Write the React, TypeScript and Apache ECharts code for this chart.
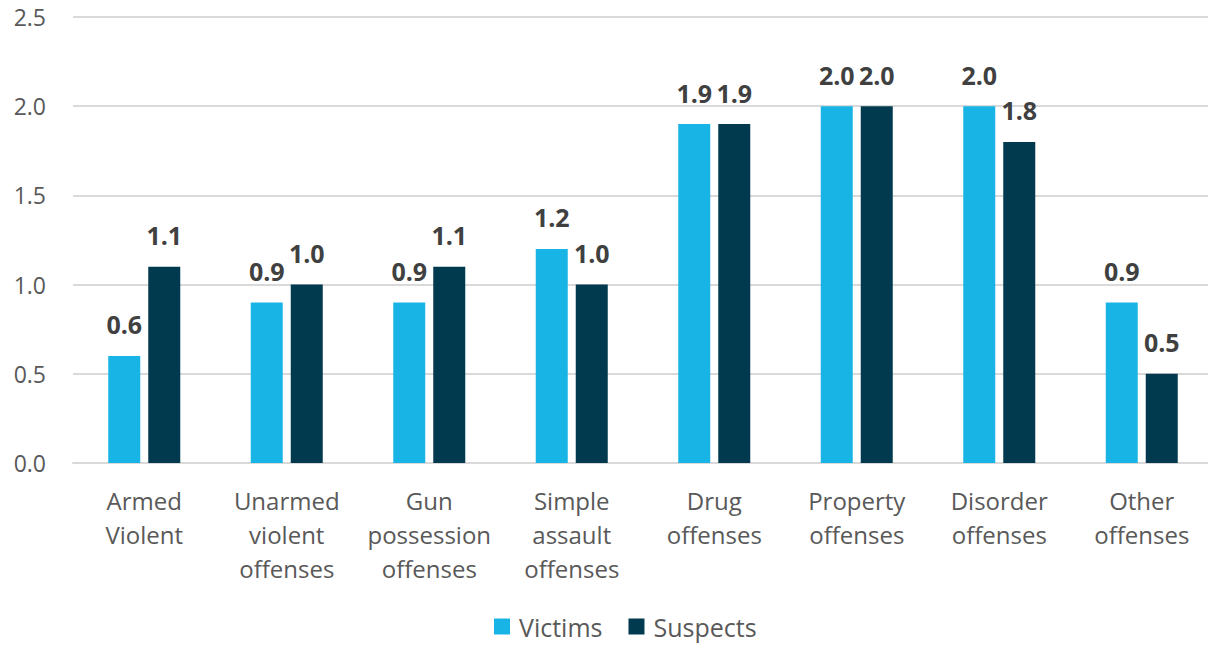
import React, { useEffect, useRef } from "react";
import * as echarts from "echarts";

const categories = [
  "Armed\nViolent",
  "Unarmed\nviolent\noffenses",
  "Gun\npossession\noffenses",
  "Simple\nassault\noffenses",
  "Drug\noffenses",
  "Property\noffenses",
  "Disorder\noffenses",
  "Other\noffenses",
];
const victims = [0.6, 0.9, 0.9, 1.2, 1.9, 2.0, 2.0, 0.9];
const suspects = [1.1, 1.0, 1.1, 1.0, 1.9, 2.0, 1.8, 0.5];

const FONT = "'Open Sans', sans-serif";

export default function App() {
  const ref = useRef<HTMLDivElement>(null);
  useEffect(() => {
    if (!ref.current) return;
    const chart = echarts.init(ref.current, null, { renderer: "svg" });
    const label = {
      show: true,
      position: "top" as const,
      distance: 19,
      fontFamily: FONT,
      fontSize: 25,
      fontWeight: "bold" as const,
      color: "#404040",
      formatter: (p: any) => Number(p.value).toFixed(1),
    };
    chart.setOption({
      animation: false,
      textStyle: { fontFamily: FONT },
      legend: {
        data: ["Victims", "Suspects"],
        top: 609,
        left: 489,
        itemWidth: 16,
        itemHeight: 16,
        itemGap: 26,
        icon: "rect",
        textStyle: { fontFamily: FONT, fontSize: 25, color: "#595959", padding: [0, 0, 0, 4] },
      },
      grid: { left: 73, top: 17, right: 0, height: 446, containLabel: false },
      xAxis: {
        type: "category",
        data: categories,
        axisLine: { show: true, lineStyle: { color: "#D9D9D9", width: 2 } },
        axisTick: { show: false },
        axisLabel: {
          interval: 0,
          margin: 20,
          fontFamily: FONT,
          fontSize: 24,
          lineHeight: 34,
          color: "#595959",
        },
      },
      yAxis: {
        type: "value",
        min: 0,
        max: 2.5,
        interval: 0.5,
        axisLine: { show: false },
        axisTick: { show: false },
        splitLine: { lineStyle: { color: "#D9D9D9", width: 2 } },
        axisLabel: {
          margin: 27,
          fontFamily: FONT,
          fontSize: 23,
          color: "#595959",
          formatter: (v: number) => v.toFixed(1),
        },
      },
      series: [
        {
          name: "Victims",
          type: "bar",
          data: victims,
          barWidth: 32,
          barGap: "25%",
          itemStyle: { color: "#18B4E6" },
          label,
        },
        {
          name: "Suspects",
          type: "bar",
          data: suspects,
          barWidth: 32,
          barGap: "25%",
          itemStyle: { color: "#013A4F" },
          label,
        },
      ],
    });
    return () => chart.dispose();
  }, []);
  return (
    <div
      ref={ref}
      style={{ position: "fixed", left: 0, top: 0, width: 1213, height: 646, background: "#fff" }}
    />
  );
}
